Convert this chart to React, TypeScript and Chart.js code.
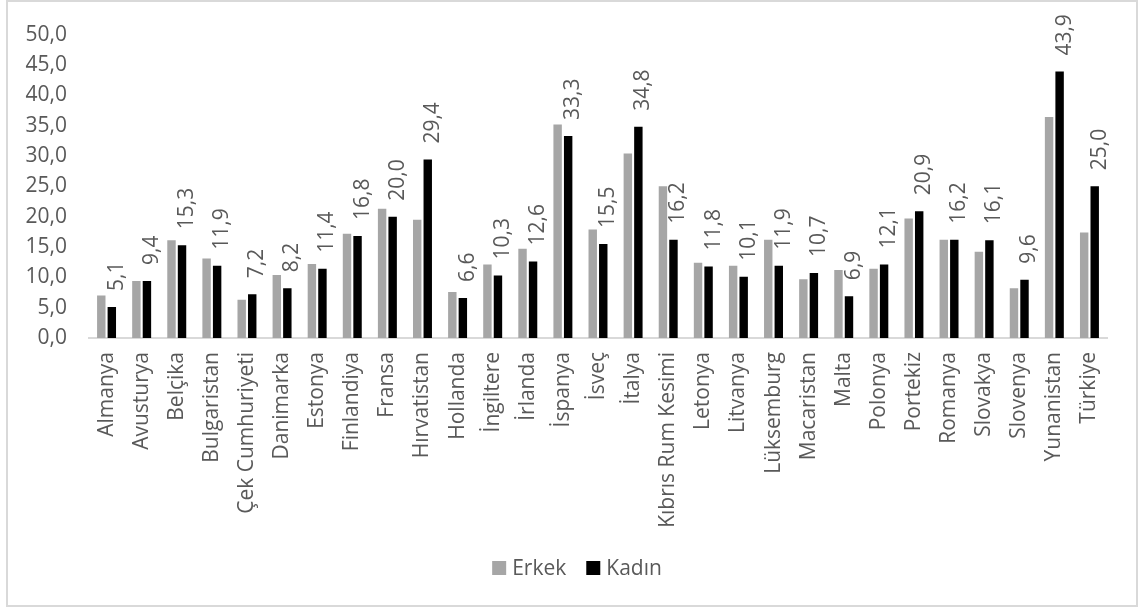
import React, { useEffect, useRef } from "react";
import { Chart, registerables } from "chart.js";

Chart.register(...registerables);

const categories = [
  "Almanya", "Avusturya", "Belçika", "Bulgaristan", "Çek Cumhuriyeti", "Danimarka",
  "Estonya", "Finlandiya", "Fransa", "Hırvatistan", "Hollanda", "İngiltere", "İrlanda",
  "İspanya", "İsveç", "İtalya", "Kıbrıs Rum Kesimi", "Letonya", "Litvanya", "Lüksemburg",
  "Macaristan", "Malta", "Polonya", "Portekiz", "Romanya", "Slovakya", "Slovenya",
  "Yunanistan", "Türkiye",
];

const erkek = [
  7.0, 9.4, 16.1, 13.1, 6.3, 10.4, 12.2, 17.2, 21.3, 19.5, 7.6, 12.1, 14.7, 35.2, 17.9,
  30.4, 25.0, 12.4, 11.9, 16.2, 9.7, 11.2, 11.4, 19.7, 16.2, 14.2, 8.2, 36.4, 17.4,
];

const kadin = [
  5.1, 9.4, 15.3, 11.9, 7.2, 8.2, 11.4, 16.8, 20.0, 29.4, 6.6, 10.3, 12.6, 33.3, 15.5,
  34.8, 16.2, 11.8, 10.1, 11.9, 10.7, 6.9, 12.1, 20.9, 16.2, 16.1, 9.6, 43.9, 25.0,
];

const seriesNames = ["Erkek", "Kadın"];
const seriesColors = ["#a6a6a6", "#000000"];
const yTicks = { min: 0, max: 50, step: 5 };

const FONT = "'Open Sans', sans-serif";
const FS = 21;
const TEXT = "#595959";

const fmt = (v: number) => v.toFixed(1).replace(".", ",");

const frame = {
  id: "frame",
  beforeDraw(chart: any) {
    const ctx = chart.ctx;
    ctx.save();
    ctx.fillStyle = "#ffffff";
    ctx.fillRect(0, 0, chart.width, chart.height);
    ctx.strokeStyle = "#d9d9d9";
    ctx.lineWidth = 2;
    ctx.strokeRect(7, 1, 1130, 605);
    ctx.restore();
  },
};

const customLegend = {
  id: "customLegend",
  afterDraw(chart: any) {
    const ctx = chart.ctx;
    ctx.save();
    ctx.font = `${FS}px ${FONT}`;
    ctx.textBaseline = "middle";
    ctx.textAlign = "left";
    const box = 14;
    const gapText = 6;
    const gapItem = 20;
    const widths = chart.data.datasets.map(
      (d: any) => box + gapText + ctx.measureText(d.label).width
    );
    const total = widths.reduce((a: number, b: number) => a + b, 0) + gapItem * (widths.length - 1);
    let x = 577 - total / 2;
    const cy = 568;
    chart.data.datasets.forEach((d: any, i: number) => {
      ctx.fillStyle = d.backgroundColor;
      ctx.fillRect(x, cy - box / 2, box, box);
      ctx.fillStyle = TEXT;
      ctx.fillText(d.label, x + box + gapText, cy + 1);
      x += widths[i] + gapItem;
    });
    ctx.restore();
  },
};

const valueLabels = {
  id: "valueLabels",
  afterDatasetsDraw(chart: any) {
    const ctx = chart.ctx;
    const meta = chart.getDatasetMeta(1);
    const data = chart.data.datasets[1].data as number[];
    ctx.save();
    ctx.fillStyle = TEXT;
    ctx.font = `${FS}px ${FONT}`;
    ctx.textAlign = "left";
    ctx.textBaseline = "middle";
    meta.data.forEach((bar: any, i: number) => {
      ctx.save();
      ctx.translate(bar.x + 5, bar.y - 16);
      ctx.rotate(-Math.PI / 2);
      ctx.fillText(fmt(data[i]), 0, 0);
      ctx.restore();
    });
    ctx.restore();
  },
};

export default function App() {
  const ref = useRef<HTMLCanvasElement | null>(null);

  useEffect(() => {
    document.body.style.margin = "0";
    const canvas = ref.current;
    if (!canvas) return;
    const chart = new Chart(canvas, {
      type: "bar",
      data: {
        labels: categories,
        datasets: [
          {
            label: seriesNames[0],
            data: erkek,
            backgroundColor: seriesColors[0],
            categoryPercentage: 0.6,
            barPercentage: 0.8,
          },
          {
            label: seriesNames[1],
            data: kadin,
            backgroundColor: seriesColors[1],
            categoryPercentage: 0.6,
            barPercentage: 0.8,
          },
        ],
      },
      options: {
        responsive: false,
        animation: false,
        devicePixelRatio: 1,
        layout: { padding: { left: 7, right: 40, top: 30, bottom: 73 } },
        plugins: {
          tooltip: { enabled: false },
          legend: { display: false },
        },
        scales: {
          x: {
            grid: { display: false, drawTicks: false },
            border: { display: true, color: "#d9d9d9", width: 2 },
            ticks: {
              color: TEXT,
              font: { family: FONT, size: FS },
              minRotation: 90,
              maxRotation: 90,
              autoSkip: false,
              padding: 14,
            },
            afterFit: (scale: any) => {
              scale.height = 199;
            },
          },
          y: {
            min: yTicks.min,
            max: yTicks.max,
            grid: { display: false, drawTicks: false },
            border: { display: false },
            ticks: {
              stepSize: yTicks.step,
              color: TEXT,
              font: { family: FONT, size: FS },
              padding: 22,
              callback: (v: any) => fmt(Number(v)),
            },
            afterFit: (scale: any) => {
              scale.width = 82;
            },
          },
        },
      },
      plugins: [frame, valueLabels, customLegend],
    });
    return () => chart.destroy();
  }, []);

  return (
    <div style={{ position: "absolute", left: 0, top: 0, width: 1147, height: 610 }}>
      <canvas ref={ref} width={1147} height={610} style={{ display: "block" }} />
    </div>
  );
}
